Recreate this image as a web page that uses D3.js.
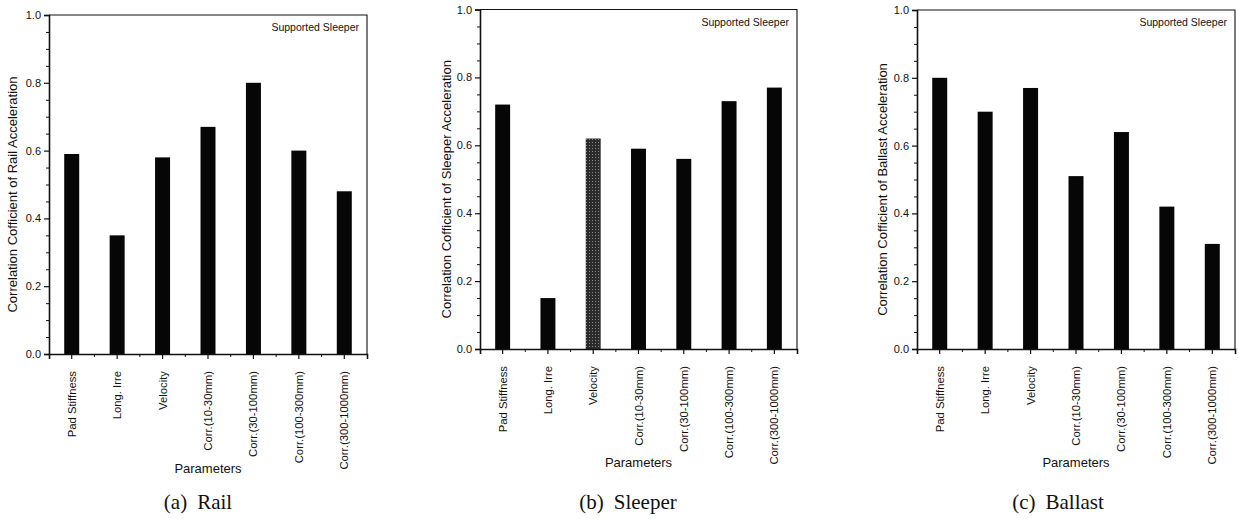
<!DOCTYPE html>
<html>
<head>
<meta charset="utf-8">
<script src="https://cdn.jsdelivr.net/npm/d3@7"></script>
<style>
  html, body { margin: 0; padding: 0; background: #fff; }
  svg { display: block; }
  text { font-family: "Liberation Sans", Arial, Helvetica, sans-serif; fill: #111; }
  .caption { font-family: "Liberation Serif", "Times New Roman", serif; }
</style>
</head>
<body>
<svg id="chart" width="1238" height="519"></svg>
<script>
// Parameters on the horizontal axis (shared by all three panels)
const categories = [
  "Pad Stiffness", "Long. Irre", "Velocity",
  "Corr.(10-30mm)", "Corr.(30-100mm)", "Corr.(100-300mm)", "Corr.(300-1000mm)"
];

// Correlation coefficients for each response quantity
const railValues    = [0.59, 0.35, 0.58, 0.67, 0.80, 0.60, 0.48];
const sleeperValues = [0.72, 0.15, 0.62, 0.59, 0.56, 0.73, 0.77];
const ballastValues = [0.80, 0.70, 0.77, 0.51, 0.64, 0.42, 0.31];

// Axis ticks
const yTicks      = [0, 0.2, 0.4, 0.6, 0.8, 1.0];
const yMinorTicks = [0.05, 0.1, 0.15, 0.25, 0.3, 0.35, 0.45, 0.5, 0.55, 0.65, 0.7, 0.75, 0.85, 0.9, 0.95];

// Panel texts
const yTitles  = ["Correlation Cofficient of Rail Acceleration",
                  "Correlation Cofficient of Sleeper Acceleration",
                  "Correlation Cofficient of Ballast Acceleration"];
const captions = [["(a)", "Rail"], ["(b)", "Sleeper"], ["(c)", "Ballast"]];
const noteText = "Supported Sleeper";
const xTitle   = "Parameters";

const svg = d3.select("#chart");

// Halftone fill used for the velocity bar of the sleeper panel
const defs = svg.append("defs");
const pat = defs.append("pattern")
  .attr("id", "halftone").attr("patternUnits", "userSpaceOnUse")
  .attr("width", 3).attr("height", 3);
pat.append("rect").attr("width", 3).attr("height", 3).attr("fill", "#2b2b2b");
pat.append("rect").attr("x", 1).attr("y", 1).attr("width", 1).attr("height", 1).attr("fill", "#8a8a8a");

// Plot frames of the three panels
const panels = [
  { values: railValues,    left: 49,  right: 367,  top: 15,  bottom: 354, yTitleX: 17,  capX: 198 },
  { values: sleeperValues, left: 480, right: 797,  top: 9.5, bottom: 349, yTitleX: 451, capX: 628 },
  { values: ballastValues, left: 917, right: 1235, top: 10,  bottom: 349, yTitleX: 887, capX: 1058 }
];

const font = "'Liberation Sans', Arial, Helvetica, sans-serif";

panels.forEach((p, pi) => {
  const g = svg.append("g");

  const x = d3.scaleBand().domain(categories).range([p.left, p.right]).paddingInner(0).paddingOuter(0);
  const y = d3.scaleLinear().domain([0, 1]).range([p.bottom, p.top]);
  const barW = x.bandwidth() * 0.33;

  // bars
  g.selectAll("rect.bar")
    .data(categories.map((c, i) => ({ c, v: p.values[i] })))
    .join("rect")
    .attr("class", "bar")
    .attr("x", d => x(d.c) + x.bandwidth() / 2 - barW / 2)
    .attr("width", barW)
    .attr("y", d => y(d.v))
    .attr("height", d => y(0) - y(d.v))
    .attr("fill", d => (pi === 1 && d.c === "Velocity") ? "url(#halftone)" : "#060606");

  // frame: top and right edges
  g.append("path")
    .attr("d", `M${p.left},${p.top}H${p.right}V${p.bottom}`)
    .attr("fill", "none").attr("stroke", "#111").attr("stroke-width", 1.1);

  // left axis with major ticks and labels
  const yAxis = d3.axisLeft(y).tickValues(yTicks).tickSize(5).tickPadding(3)
    .tickFormat(d3.format(".1f"));
  const ya = g.append("g").attr("transform", `translate(${p.left},0)`).call(yAxis)
    .attr("font-family", font).attr("font-size", 11);
  ya.select(".domain").attr("stroke", "#111").attr("stroke-width", 1.6);
  ya.selectAll(".tick line").attr("stroke", "#111").attr("stroke-width", 1.2);
  ya.selectAll(".tick text").attr("fill", "#111");

  // left axis minor ticks
  const yMinor = d3.axisLeft(y).tickValues(yMinorTicks).tickSize(3).tickFormat("");
  const ym = g.append("g").attr("transform", `translate(${p.left},0)`).call(yMinor);
  ym.select(".domain").remove();
  ym.selectAll(".tick line").attr("stroke", "#111").attr("stroke-width", 1);

  // bottom axis with ticks at category centres
  const xAxis = d3.axisBottom(x).tickSize(5).tickFormat("");
  const xa = g.append("g").attr("transform", `translate(0,${p.bottom})`).call(xAxis);
  xa.select(".domain").attr("stroke", "#111").attr("stroke-width", 1.6);
  xa.selectAll(".tick line").attr("stroke", "#111").attr("stroke-width", 1.2);

  // bottom axis minor ticks between categories
  g.selectAll("line.xminor")
    .data(categories.slice(1))
    .join("line")
    .attr("class", "xminor")
    .attr("x1", d => x(d)).attr("x2", d => x(d))
    .attr("y1", p.bottom).attr("y2", p.bottom + 3)
    .attr("stroke", "#111").attr("stroke-width", 1);

  // rotated category labels
  g.selectAll("text.cat")
    .data(categories)
    .join("text")
    .attr("class", "cat")
    .attr("transform", d => `translate(${x(d) + x.bandwidth() / 2 + 4},${p.bottom + 17}) rotate(-90)`)
    .attr("text-anchor", "end")
    .style("font-size", "11.3px")
    .text(d => d);

  // axis titles
  g.append("text")
    .attr("transform", `translate(${p.yTitleX},${(p.top + p.bottom) / 2 + 10}) rotate(-90)`)
    .attr("text-anchor", "middle")
    .style("font-size", "13px")
    .text(yTitles[pi]);

  g.append("text")
    .attr("x", (p.left + p.right) / 2)
    .attr("y", pi === 0 ? 473 : 467)
    .attr("text-anchor", "middle")
    .style("font-size", "13px")
    .text(xTitle);

  // in-plot note
  g.append("text")
    .attr("x", p.right - 8)
    .attr("y", p.top + 16)
    .attr("text-anchor", "end")
    .style("font-size", "10.5px")
    .text(noteText);

  // panel caption
  const cap = g.append("text")
    .attr("class", "caption")
    .attr("x", p.capX)
    .attr("y", 509)
    .attr("text-anchor", "middle")
    .style("font-size", "21px");
  cap.append("tspan").text(captions[pi][0]);
  cap.append("tspan").attr("dx", 10).text(captions[pi][1]);
});
</script>
</body>
</html>
